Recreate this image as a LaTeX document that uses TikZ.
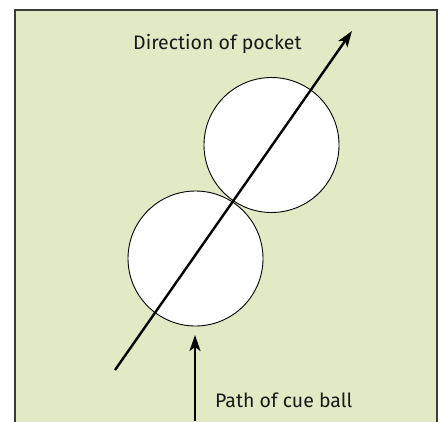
\documentclass[tikz,border=0pt]{standalone}
\usepackage{fontspec}
\setmainfont{Fira Sans}
\usetikzlibrary{arrows.meta}
\definecolor{felt}{RGB}{225,234,196}
\definecolor{framec}{RGB}{60,60,60}
\tikzset{
  ball/.style={circle, draw=black, fill=white, line width=0.9pt, minimum size=135pt, inner sep=0pt},
  arr/.style={line width=2.4pt, -{Stealth[length=16pt,width=11pt,inset=4pt]}},
  lbl/.style={font=\fontsize{19.5}{22}\selectfont, text=black!90, inner sep=0pt}
}
\begin{document}
\begin{tikzpicture}[x=1pt,y=-1pt]
\clip (0,0) rectangle (443,421);
\fill[white] (0,0) rectangle (443,421);
\draw[framec, fill=felt, line width=1.5pt] (15,10) rectangle (437,440);
\node[ball] (top) at (271.5,145) {};
\node[ball] (bot) at (195.5,258.5) {};
\coordinate (ds) at (115,370);
\coordinate (de) at (352,31);
\coordinate (vs) at (195,421);
\coordinate (ve) at (195,335);
\draw[arr] (ds) -- (de);
\draw[arr] (vs) -- (ve);
\node[lbl, anchor=base west] (dir) at (133,49) {Direction of pocket};
\node[lbl, anchor=base west] (path) at (215,407) {Path of cue ball};
\end{tikzpicture}
\end{document}
